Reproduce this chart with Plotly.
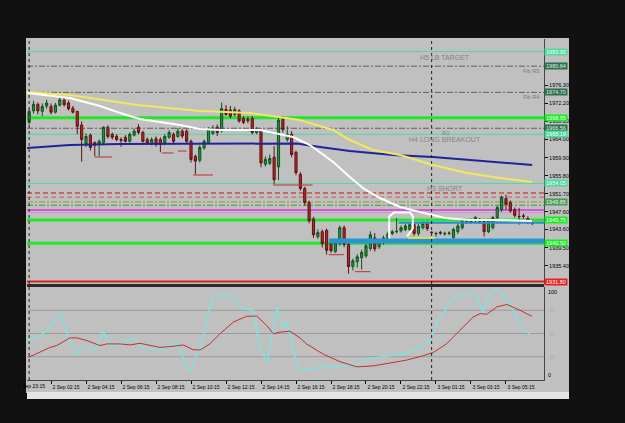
import plotly.graph_objects as go

W, H = 625, 423
FONT = "Liberation Sans, Arial, sans-serif"

# ---------------- data ----------------
bar_index = list(range(-5, 111))
opens = [1967.9, 1970.5, 1972.0, 1970.4, 1971.6,
         1971.5, 1970.2, 1971.8, 1972.9, 1972.3, 1971.1, 1970.4, 1967.3, 1963.0, 1965.0,
         1963.3, 1962.9, 1963.3, 1966.8, 1965.2, 1964.7, 1964.0, 1964.5, 1963.6, 1965.0,
         1966.8, 1965.6, 1964.0, 1963.1, 1964.2, 1964.0, 1963.3, 1964.5, 1965.2, 1964.7,
         1965.9, 1965.9, 1963.6, 1960.2, 1959.3, 1962.1, 1963.3, 1965.4, 1966.8, 1966.0,
         1970.8, 1970.7, 1969.7, 1970.5, 1968.8, 1968.6, 1968.8, 1965.6, 1966.0, 1958.4,
         1958.6, 1960.0, 1957.8, 1968.6, 1964.0, 1965.2, 1961.1, 1956.1, 1952.9, 1949.7,
         1946.0, 1942.0, 1943.1, 1943.4, 1940.4, 1938.6, 1940.4, 1944.0, 1940.2, 1935.2,
         1936.3, 1937.2, 1937.6, 1939.3, 1941.7, 1939.7, 1940.6, 1941.5, 1942.7, 1943.1,
         1943.3, 1943.6, 1943.6, 1944.7, 1942.7, 1944.0, 1944.9, 1943.0, 1942.6, 1942.9,
         1942.6, 1942.7, 1941.8, 1943.1, 1944.0, 1945.4, 1945.5, 1945.6, 1945.6, 1945.4,
         1943.1, 1944.0, 1946.3, 1948.1, 1950.6, 1949.7, 1948.1, 1946.6, 1946.7, 1946.1, 1945.2]
highs = [1970.9, 1972.8, 1972.4, 1972.2, 1973.0,
         1972.2, 1972.3, 1973.6, 1973.5, 1972.8, 1971.6, 1970.5, 1968.1, 1965.4, 1965.4,
         1963.6, 1964.0, 1967.0, 1967.2, 1965.6, 1965.2, 1964.5, 1965.0, 1965.6, 1966.5,
         1967.5, 1966.0, 1964.5, 1964.5, 1964.7, 1964.5, 1965.2, 1966.1, 1965.6, 1966.6,
         1966.4, 1966.3, 1964.0, 1960.6, 1962.7, 1964.0, 1966.8, 1967.2, 1967.4, 1972.4,
         1971.8, 1971.6, 1971.4, 1970.9, 1969.3, 1969.2, 1969.3, 1966.8, 1966.5, 1960.2,
         1960.6, 1962.5, 1969.3, 1969.3, 1967.0, 1965.9, 1961.5, 1956.6, 1953.3, 1950.2,
         1946.5, 1943.6, 1943.6, 1943.8, 1941.0, 1941.3, 1944.5, 1944.5, 1940.8, 1937.0,
         1938.0, 1939.0, 1940.4, 1943.2, 1942.8, 1941.5, 1942.2, 1943.1, 1943.5, 1946.2,
         1944.5, 1944.9, 1945.1, 1945.1, 1944.9, 1945.4, 1945.4, 1943.2, 1943.1, 1943.3,
         1943.1, 1943.2, 1944.0, 1944.9, 1945.9, 1946.0, 1946.0, 1946.7, 1946.2, 1945.9,
         1946.0, 1946.7, 1949.0, 1951.3, 1951.5, 1950.2, 1948.6, 1948.5, 1947.2, 1946.6, 1945.6]
lows = [1967.4, 1969.9, 1969.7, 1969.3, 1971.0,
        1969.7, 1969.9, 1971.5, 1971.5, 1970.6, 1969.9, 1965.2, 1959.0, 1962.3, 1961.5,
        1960.2, 1960.2, 1963.0, 1964.2, 1964.0, 1963.6, 1962.4, 1963.3, 1963.3, 1964.7,
        1965.2, 1963.3, 1962.8, 1962.7, 1962.4, 1961.1, 1962.7, 1964.2, 1963.1, 1964.4,
        1964.3, 1963.2, 1958.8, 1956.1, 1958.8, 1961.7, 1963.0, 1965.0, 1964.8, 1965.6,
        1969.4, 1968.8, 1969.2, 1967.8, 1967.5, 1967.7, 1965.2, 1965.2, 1957.7, 1957.9,
        1958.2, 1953.8, 1954.8, 1965.6, 1963.5, 1960.0, 1955.9, 1952.4, 1949.0, 1945.0,
        1941.7, 1941.5, 1939.5, 1937.9, 1938.3, 1938.3, 1939.9, 1939.6, 1933.6, 1934.3,
        1935.0, 1934.5, 1937.2, 1938.8, 1938.6, 1939.2, 1940.1, 1941.0, 1942.3, 1942.7,
        1942.9, 1943.2, 1943.2, 1942.2, 1942.2, 1943.6, 1943.3, 1942.6, 1942.0, 1942.4,
        1942.2, 1942.3, 1941.4, 1942.6, 1943.6, 1944.9, 1944.9, 1945.2, 1944.9, 1942.0,
        1942.8, 1943.6, 1945.8, 1947.6, 1948.1, 1947.4, 1946.3, 1944.7, 1946.0, 1944.8, 1944.6]
closes = [1970.4, 1972.0, 1970.5, 1971.5, 1972.3,
          1970.2, 1971.8, 1973.0, 1971.9, 1971.0, 1970.2, 1967.0, 1964.0, 1964.7, 1962.2,
          1962.7, 1963.6, 1966.8, 1964.7, 1964.5, 1964.0, 1963.8, 1963.6, 1965.2, 1965.9,
          1965.6, 1963.6, 1963.1, 1964.0, 1962.9, 1962.9, 1964.7, 1965.6, 1963.6, 1965.9,
          1964.8, 1963.6, 1959.5, 1959.1, 1962.2, 1963.6, 1966.3, 1966.6, 1965.6, 1971.0,
          1969.7, 1969.3, 1970.8, 1968.2, 1967.9, 1968.3, 1965.6, 1966.3, 1958.7, 1959.5,
          1959.7, 1954.9, 1968.4, 1966.3, 1965.2, 1960.6, 1956.5, 1952.9, 1949.7, 1945.6,
          1942.4, 1942.9, 1940.4, 1938.9, 1938.8, 1940.6, 1944.0, 1940.2, 1935.2, 1936.5,
          1937.4, 1938.4, 1939.9, 1942.4, 1939.2, 1940.8, 1941.7, 1942.6, 1943.1, 1943.2,
          1944.0, 1944.4, 1944.7, 1942.7, 1944.3, 1944.9, 1943.8, 1942.9, 1942.7, 1942.8,
          1942.7, 1942.8, 1943.6, 1944.4, 1945.4, 1945.5, 1945.4, 1946.3, 1945.5, 1943.1,
          1945.8, 1946.3, 1948.6, 1950.9, 1949.3, 1947.8, 1946.8, 1946.5, 1946.6, 1945.2, 1945.0]

# moving averages (bar index, price)
ma_yellow_idx = [-5.5, 4.3, 19.7, 34.1, 45.5, 52.3, 56.9, 64.5, 68.3, 73.6, 79.8, 87.3, 95.1, 102.6, 110]
ma_yellow_val = [1974.78, 1974.10, 1971.83, 1970.47, 1970.02, 1969.11, 1968.43, 1966.16, 1963.89,
                 1961.63, 1960.49, 1958.23, 1956.41, 1955.28, 1954.37]
ma_white_idx = [-5.5, -0.2, 4.3, 11.2, 15.8, 20.3, 24.9, 29.5, 34.1, 38.6, 47.8, 52.3, 55.3, 59.2,
                64.5, 68.3, 71.3, 75.2, 79.8, 84.3, 90.1, 95.8, 102.6, 110]
ma_white_val = [1974.55, 1973.87, 1973.42, 1971.61, 1970.02, 1968.66, 1967.98, 1967.30, 1966.39,
                1966.16, 1966.16, 1965.26, 1964.58, 1962.76, 1958.91, 1955.51, 1953.01, 1950.74,
                1948.71, 1947.57, 1946.21, 1945.76, 1945.76, 1945.53]
ma_blue_idx = [-5.5, 4.3, 15.8, 34.1, 56.2, 61.5, 68.3, 78.2, 87.3, 95.8, 110]
ma_blue_val = [1962.08, 1962.76, 1962.99, 1962.99, 1963.10, 1962.31, 1961.40, 1960.49, 1960.04,
               1959.36, 1958.23]

# oscillator (lower pane)
osc_fast_idx = [-5.5, -2.5, -0.9, 2.1, 4.3, 5.9, 7.8, 10.1, 11.9, 13.5, 15.8, 18.7, 20.3, 21.9, 24.9,
                27.2, 28.8, 31.1, 31.8, 34.1, 35.7, 37.0, 39.3, 41.6, 43.2, 46.2, 47.8, 49.4, 51.7,
                53.0, 53.9, 56.2, 56.9, 59.2, 62.2, 66.1, 69.9, 72.9, 77.5, 81.4, 85.0, 86.6, 88.2,
                89.6, 91.2, 92.8, 95.8, 97.4, 98.7, 100.3, 101.9, 104.2, 106.5, 107.9, 109.5]
osc_fast_val = [42, 48, 53, 72, 42, 28, 37, 32, 53, 37, 39, 45, 37, 34, 32,
                37, 40, 13, 10, 35, 67, 89, 93, 89, 78, 75, 35, 18, 78,
                57, 62, 17, 10, 12, 13, 15, 17, 23, 26, 29, 37, 42, 61,
                72, 83, 91, 93, 89, 72, 93, 100, 86, 67, 53, 50]
osc_slow_idx = [-5.2, -2.5, -0.2, 1.3, 4.3, 5.9, 8.2, 11.2, 12.7, 15.8, 18.1, 20.3, 23.4, 24.9, 27.2,
                30.2, 32.5, 34.1, 36.3, 38.6, 41.7, 44.7, 47.0, 49.3, 50.8, 52.3, 54.6, 56.9, 58.4,
                62.2, 66.1, 69.9, 73.7, 77.5, 81.3, 85.1, 87.4, 90.4, 93.5, 96.5, 98.1, 99.6, 101.9,
                104.2, 107.2, 109.9]
osc_slow_val = [24.2, 29.7, 35.1, 37.0, 45.3, 45.3, 42.4, 37.0, 38.8, 38.8, 37.7, 39.5, 37.0, 35.1, 35.9,
                37.7, 32.6, 32.3, 38.8, 49.7, 62.3, 68.5, 68.8, 58.7, 49.7, 51.4, 52.5, 45.3, 38.8,
                27.9, 19.6, 14.1, 15.2, 18.2, 21.4, 26.1, 29.7, 38.8, 53.3, 67.7, 71.4, 70.7, 78.6,
                81.2, 75.0, 68.5]
osc_levels = [25, 50, 75]

# horizontal price levels
level_prices = [1983.95, 1980.64, 1974.70, 1968.95, 1966.56, 1965.19, 1954.05, 1951.85,
                1950.95, 1949.85, 1949.10, 1948.00, 1947.40, 1945.75, 1940.50, 1931.80]
level_names = ["H5 LB TARGET", "Fib R5", "Fib R4", "", "R1", "H4 LONG BREAKOUT", "H3 SHORT", "",
               "", "", "", "", "", "", "", ""]
box_prices = [1983.95, 1980.64, 1974.70, 1968.95, 1966.56, 1965.19, 1954.05, 1949.85,
              1945.75, 1940.50, 1931.80]

# partial lines / drawn objects
band_idx = [63.6, 112.7]
band_price = 1941.0
zone_idx = [79.5, 112.7]
zone_price = 1945.14
yellow_seg_idx = [81.6, 87.7]
yellow_seg_price = 1941.7
box_draw_idx = [77.3, 77.3, 78.4, 82.1, 82.7, 82.7, 81.4]
box_draw_val = [1941.58, 1946.57, 1947.48, 1947.48, 1946.57, 1943.85, 1942.03]
frac_start = [10, 25.4, 29, 32.5, 50.8, 63.5, 69.5]
frac_end = [14, 28, 31, 37, 59.8, 67, 73]
frac_price = [1960.04, 1960.95, 1961.40, 1955.96, 1953.69, 1937.89, 1934.03]
day_separators = [-5, 87]

# axis ticks
time_tick_idx = [0, 8, 16, 24, 32, 40, 48, 56, 64, 72, 80, 88, 96, 104]
time_tick_text = ["2 Sep 02:15", "2 Sep 04:15", "2 Sep 06:15", "2 Sep 08:15", "2 Sep 10:15",
                  "2 Sep 12:15", "2 Sep 14:15", "2 Sep 16:15", "2 Sep 18:15", "2 Sep 20:15",
                  "2 Sep 22:15", "3 Sep 01:15", "3 Sep 03:15", "3 Sep 05:15"]
first_time_label = "1 Sep 23:15"
price_ticks = [1976.30, 1972.20, 1968.10, 1964.00, 1959.90, 1955.80,
               1951.70, 1947.60, 1943.60, 1939.50, 1935.40]

# ---------------- styles ----------------
TEAL = "#4fd9a0"
FIBC = "#5e5e5e"
LIME = "#1ee828"
level_styles = [
    dict(color=TEAL, width=1, dash="solid"),
    dict(color=FIBC, width=1, dash="6px,2px,2px,2px"),
    dict(color=FIBC, width=1, dash="6px,2px,2px,2px"),
    dict(color=LIME, width=3, dash="solid"),
    dict(color=FIBC, width=1, dash="6px,2px,2px,2px"),
    dict(color=TEAL, width=1, dash="solid"),
    dict(color=TEAL, width=1, dash="solid"),
    dict(color="#d04848", width=1.5, dash="5px,3px"),
    dict(color="#c07868", width=1.2, dash="5px,3px"),
    dict(color="#a0a048", width=1.2, dash="6px,2px,2px,2px"),
    dict(color="#3f9a3f", width=1.2, dash="6px,2px,2px,2px"),
    dict(color="#e030e0", width=1.5, dash="solid"),
    dict(color="#d494d4", width=1, dash="solid"),
    dict(color=LIME, width=3, dash="solid"),
    dict(color=LIME, width=3, dash="solid"),
    dict(color="#e02020", width=2, dash="solid"),
]
box_styles = [
    dict(bg=TEAL, fg="#f4fff8"), dict(bg="#2f6f50", fg="#e0f0e0"), dict(bg="#2f6f50", fg="#e0f0e0"),
    dict(bg=LIME, fg="#f4fff4"), dict(bg="#2f6f50", fg="#e0f0e0"), dict(bg=TEAL, fg="#f4fff8"),
    dict(bg=TEAL, fg="#f4fff8"), dict(bg="#4a9a5a", fg="#e8f8e8"), dict(bg=LIME, fg="#f4fff4"),
    dict(bg=LIME, fg="#f4fff4"), dict(bg="#e82020", fg="#ffffff"),
]
name_styles = {"H5 LB TARGET": (7, 90), "Fib R5": (5.5, None), "Fib R4": (5.5, None),
               "R1": (6, 90.3), "H4 LONG BREAKOUT": (7, 90), "H3 SHORT": (7, 90)}


def px_x(x):
    return x / W


def px_y(y):
    return 1 - y / H


X_RANGE = [-5.49, 112.69]
Y_RANGE = [1931.24, 1986.80]

fig = go.Figure()

# partial zones (under candles)
fig.add_trace(go.Scatter(x=band_idx, y=[band_price] * len(band_idx), mode="lines",
                         line=dict(color="#2a92d6", width=5), hoverinfo="skip"))
fig.add_trace(go.Scatter(x=zone_idx, y=[zone_price] * len(zone_idx), mode="lines",
                         line=dict(color="#2a8ad8", width=2), hoverinfo="skip"))
fig.add_trace(go.Scatter(x=yellow_seg_idx, y=[yellow_seg_price] * len(yellow_seg_idx), mode="lines",
                         line=dict(color="#e6dc4a", width=2), hoverinfo="skip"))

# fractal / swing markers
fx, fy = [], []
for a, b, p in zip(frac_start, frac_end, frac_price):
    fx += [a, b, None]
    fy += [p, p, None]
fig.add_trace(go.Scatter(x=fx, y=fy, mode="lines", line=dict(color="#b83030", width=1),
                         hoverinfo="skip", connectgaps=False))

# moving averages
fig.add_trace(go.Scatter(x=ma_blue_idx, y=ma_blue_val, mode="lines",
                         line=dict(color="#22229a", width=2), hoverinfo="skip"))
fig.add_trace(go.Scatter(x=ma_yellow_idx, y=ma_yellow_val, mode="lines",
                         line=dict(color="#f0e860", width=2), hoverinfo="skip"))
fig.add_trace(go.Scatter(x=ma_white_idx, y=ma_white_val, mode="lines",
                         line=dict(color="#ffffff", width=2), hoverinfo="skip"))

# candles
fig.add_trace(go.Candlestick(
    x=bar_index, open=opens, high=highs, low=lows, close=closes,
    increasing=dict(fillcolor="#27913f", line=dict(color="#10521f", width=1)),
    decreasing=dict(fillcolor="#b32828", line=dict(color="#5e1212", width=1)),
    whiskerwidth=0, hoverinfo="skip"))

# drawn white object
fig.add_trace(go.Scatter(x=box_draw_idx, y=box_draw_val, mode="lines",
                         line=dict(color="#ffffff", width=2), hoverinfo="skip"))

# oscillator pane
fig.add_trace(go.Scatter(x=osc_fast_idx, y=osc_fast_val, mode="lines", xaxis="x", yaxis="y2",
                         line=dict(color="#84e0dc", width=1.5), hoverinfo="skip"))
fig.add_trace(go.Scatter(x=osc_slow_idx, y=osc_slow_val, mode="lines", xaxis="x", yaxis="y2",
                         line=dict(color="#c03030", width=1), hoverinfo="skip"))

shapes = [
    # terminal window background
    dict(type="rect", xref="paper", yref="paper", x0=px_x(26), x1=px_x(569), y0=px_y(393), y1=px_y(38),
         fillcolor="#c0c0c0", line=dict(width=0), layer="below"),
    dict(type="rect", xref="paper", yref="paper", x0=px_x(27), x1=px_x(569), y0=px_y(399), y1=px_y(392),
         fillcolor="#e4e4e4", line=dict(width=0), layer="below"),
]
for p, st in zip(level_prices, level_styles):
    shapes.append(dict(type="line", xref="x domain", x0=0, x1=1, yref="y", y0=p, y1=p,
                       line=dict(color=st["color"], width=st["width"], dash=st["dash"]), layer="below"))
for lv in osc_levels:
    shapes.append(dict(type="line", xref="x domain", x0=0, x1=1, yref="y2", y0=lv, y1=lv,
                       line=dict(color="#9a9a9a", width=1), layer="below"))
for d in day_separators:
    shapes.append(dict(type="line", xref="x", x0=d, x1=d, yref="paper", y0=px_y(380), y1=px_y(39),
                       line=dict(color="#222222", width=1, dash="dot"), layer="above"))
shapes.append(dict(type="rect", xref="paper", yref="paper", x0=px_x(27), x1=px_x(544),
                   y0=px_y(287), y1=px_y(284), fillcolor="#2b2b2b", line=dict(width=0), layer="above"))

annotations = []
for p, st in zip(box_prices, box_styles):
    annotations.append(dict(xref="x domain", x=1, xanchor="left", yref="y", y=p, yanchor="middle",
                            text=f"{p:.2f}", showarrow=False, bgcolor=st["bg"], width=22, height=6,
                            font=dict(family=FONT, size=5.5, color=st["fg"]), borderpad=0))
for p, name in zip(level_prices, level_names):
    if not name:
        continue
    size, xpos = name_styles[name]
    if xpos is None:
        annotations.append(dict(xref="x domain", x=0.995, xanchor="right", yref="y", y=p, yanchor="top",
                                text=name, showarrow=False, font=dict(family=FONT, size=size, color="#7a7a7a")))
    else:
        annotations.append(dict(xref="x", x=xpos, xanchor="center", yref="y", y=p, yanchor="top",
                                text=name, showarrow=False, font=dict(family=FONT, size=size, color="#858585")))
annotations.append(dict(xref="x domain", x=1, xanchor="left", xshift=2, yref="y2", y=100, yanchor="top",
                        text="100", showarrow=False, font=dict(family=FONT, size=5.5, color="#000")))
annotations.append(dict(xref="x domain", x=1, xanchor="left", xshift=2, yref="y2", y=0, yanchor="bottom",
                        text="0", showarrow=False, font=dict(family=FONT, size=5.5, color="#000")))
for lv in osc_levels:
    annotations.append(dict(xref="x domain", x=1, xanchor="left", xshift=3, yref="y2", y=lv,
                            text=str(lv), showarrow=False, font=dict(family=FONT, size=5.5, color="#acacac")))
annotations.append(dict(xref="paper", x=px_x(15.5), xanchor="left", yref="paper", y=px_y(385.5),
                        yanchor="middle", text=first_time_label, showarrow=False,
                        font=dict(family=FONT, size=5, color="#000")))

fig.update_layout(
    width=W, height=H, margin=dict(l=0, r=0, t=0, b=0), autosize=False,
    paper_bgcolor="#111111", plot_bgcolor="#c0c0c0", showlegend=False, hovermode=False,
    font=dict(family=FONT, size=6, color="#000"),
    shapes=shapes, annotations=annotations,
    xaxis=dict(domain=[px_x(27), px_x(544)], range=X_RANGE, anchor="y2",
               tickmode="array", tickvals=time_tick_idx, ticktext=time_tick_text,
               ticks="outside", ticklen=3, tickcolor="#000", tickfont=dict(size=5, color="#000"),
               ticklabelshift=15, ticklabelstandoff=-1, showgrid=False, zeroline=False, showline=True,
               linecolor="#444", linewidth=1, rangeslider=dict(visible=False), fixedrange=True),
    yaxis=dict(domain=[px_y(284), px_y(39)], range=Y_RANGE, side="right", anchor="x",
               tickmode="array", tickvals=price_ticks, ticktext=[f"{v:.2f}" for v in price_ticks],
               ticks="outside", ticklen=3, tickcolor="#000", tickfont=dict(size=5.5, color="#000"),
               showgrid=False, zeroline=False, showline=True, linecolor="#444", linewidth=1,
               fixedrange=True),
    yaxis2=dict(domain=[px_y(380), px_y(287)], range=[0, 100], side="right", anchor="x",
                showticklabels=False, ticks="", showgrid=False, zeroline=False, showline=True,
                linecolor="#444", linewidth=1, fixedrange=True),
)

fig.write_html("out.html")
